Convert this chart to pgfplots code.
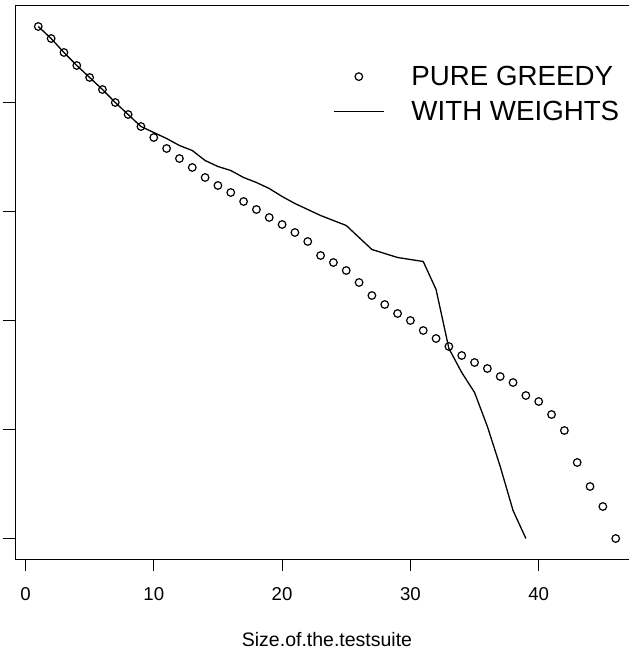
\documentclass[border=0pt]{standalone}
\usepackage{pgfplots}
\pgfplotsset{compat=1.18}
\usepackage{fontspec}
\setmainfont{Liberation Sans}
\begin{document}
\begin{tikzpicture}
\begin{axis}[
  name=ax,
  scale only axis,
  width=623.6pt, height=553pt,
  xmin=-0.8, xmax=47.8, ymin=-20.5, ymax=532.5,
  xtick={0,10,20,30,40}, ytick={0,109,218,327,436}, yticklabels={},
  xtick pos=bottom, ytick pos=left, tick align=outside,
  major tick length=12pt,
  tick style={black, line width=1pt},
  axis line style={line width=1pt},
  /pgf/number format/assume math mode=true,
  xticklabel style={font=\fontsize{18.6}{20}\selectfont, anchor=north, inner sep=0pt, yshift=-16pt},
  xlabel={Size.of.the.testsuite},
  xlabel style={font=\fontsize{19.5}{22}\selectfont, at={(axis description cs:0.5,0)}, anchor=north, inner sep=0pt, yshift=-73pt},
  legend style={draw=none, fill=none, at={(rel axis cs:0.5096,0.8915)}, anchor=north west,
    font=\fontsize{27.7}{32}\selectfont, inner sep=0pt, row sep=14pt,
    nodes={inner sep=0pt},
    /tikz/every odd column/.append style={column sep=27pt}},
  legend cell align=left,
]
\addplot[only marks, mark=o, mark size=3.8pt, mark options={line width=1.2pt, black},
  legend image code/.code={\draw[black, line width=1.2pt] (25pt,0pt) circle (3.8pt);}]
coordinates {
(1,512)(2,500)(3,486)(4,473)(5,461)(6,449)(7,436)(8,424)(9,412)(10,401)
(11,390)(12,380)(13,371)(14,361)(15,353)(16,346)(17,337)(18,329)(19,321)(20,314)
(21,306)(22,297)(23,283)(24,276)(25,268)(26,256)(27,243)(28,234)(29,225)(30,218)
(31,208)(32,200)(33,192)(34,183)(35,176)(36,170)(37,162)(38,156)(39,143)(40,137)
(41,124)(42,108)(43,76)(44,52)(45,32)(46,0)
};
\addlegendentry{PURE GREEDY}
\addplot[black, line width=1.3pt, mark=none,
  legend image code/.code={\draw[black, line width=1.3pt] (0pt,0pt) -- (50pt,0pt);}]
coordinates {
(1,512)(2,500)(3,486)(4,473)(5,461)(6,449)(7,436)(8,424)(9,412)(10,406)
(11,400)(12,393)(13,388)(14,378)(15,372)(16,368)(17,361)(18,356)(19,350)(20,342)
(21,335)(22,329)(23,323)(24,318)(25,313)(26,301)(27,289)(28,285)(29,281)(30,279)
(31,277)(32,249)(33,190)(34,166)(35,146)(36,112)(37,72)(38,28)(39,0)
};
\addlegendentry{WITH WEIGHTS}
\end{axis}
\pgfresetboundingbox
\path[use as bounding box] ([xshift=-15.2pt,yshift=-90pt]ax.south west) rectangle ([xshift=-9.8pt,yshift=6pt]ax.north east);
\end{tikzpicture}
\end{document}
